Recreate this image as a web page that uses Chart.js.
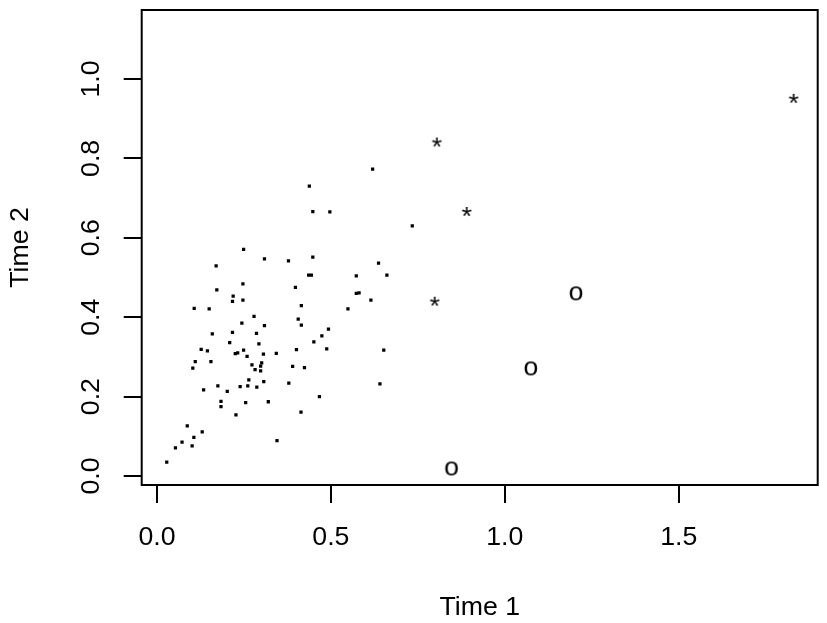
<!doctype html>
<html lang="en">
<head>
<meta charset="utf-8">
<title>Time 1 vs Time 2</title>
<script src="https://cdn.jsdelivr.net/npm/chart.js@4.4.1/dist/chart.umd.min.js"></script>
<style>
  html, body { margin: 0; padding: 0; background: #fff; }
  #wrap { width: 827px; height: 623px; }
</style>
</head>
<body>
<div id="wrap"><canvas id="myChart" width="827" height="623"></canvas></div>
<script>
// axis ticks
var xTicks = [0, 0.5, 1.0, 1.5];
var xTickLabels = ['0.0', '0.5', '1.0', '1.5'];
var yTicks = [0, 0.2, 0.4, 0.6, 0.8, 1.0];
var yTickLabels = ['0.0', '0.2', '0.4', '0.6', '0.8', '1.0'];

// small dots (pch ".")
var dotX = [0.438,0.448,0.497,0.620,0.734,0.249,0.309,0.378,0.448,0.637,
            0.170,0.436,0.444,0.573,0.661,0.247,0.398,0.172,0.573,0.581,
            0.219,0.217,0.247,0.615,0.415,0.107,0.150,0.549,0.279,0.406,
            0.415,0.244,0.309,0.493,0.474,0.159,0.217,0.286,0.451,0.209,
            0.293,0.488,0.652,0.127,0.145,0.249,0.401,0.225,0.232,0.306,
            0.343,0.259,0.110,0.155,0.301,0.273,0.298,0.390,0.424,0.103,
            0.282,0.298,0.264,0.307,0.379,0.641,0.175,0.239,0.261,0.287,
            0.134,0.202,0.467,0.184,0.320,0.255,0.184,0.414,0.227,0.087,
            0.130,0.106,0.072,0.101,0.345,0.053,0.028];
var dotY = [0.730,0.666,0.665,0.773,0.630,0.571,0.547,0.542,0.551,0.536,
            0.529,0.506,0.506,0.504,0.506,0.484,0.475,0.469,0.460,0.461,
            0.453,0.440,0.443,0.443,0.429,0.422,0.421,0.421,0.402,0.395,
            0.380,0.385,0.379,0.370,0.353,0.358,0.362,0.359,0.338,0.336,
            0.333,0.320,0.317,0.319,0.315,0.317,0.318,0.308,0.310,0.307,
            0.309,0.301,0.288,0.288,0.285,0.280,0.277,0.276,0.273,0.272,
            0.268,0.265,0.242,0.238,0.234,0.232,0.227,0.225,0.227,0.224,
            0.217,0.213,0.200,0.188,0.187,0.185,0.175,0.161,0.154,0.126,
            0.111,0.097,0.085,0.076,0.089,0.071,0.035];

// stars (pch "*")
var starX = [0.804, 0.890, 0.798, 1.830];
var starY = [0.840, 0.665, 0.439, 0.950];

// circles (pch "o")
var ringX = [1.205, 1.075, 0.847];
var ringY = [0.460, 0.271, 0.019];

var FONT = '"Liberation Sans", Arial, sans-serif';
var FSIZE = 26.7;

function toPoints(xs, ys) {
	var out = [];
	for (var i = 0; i < xs.length; i++) out.push({x: xs[i], y: ys[i]});
	return out;
}

// draw a text glyph into a small canvas so it can be used as pointStyle
function glyph(ch) {
	var c = document.createElement('canvas');
	c.width = 24; c.height = 24;
	var g = c.getContext('2d');
	g.font = FSIZE + 'px ' + FONT;
	g.fillStyle = '#000';
	var m = g.measureText(ch);
	var w = m.actualBoundingBoxRight + m.actualBoundingBoxLeft;
	var h = m.actualBoundingBoxAscent + m.actualBoundingBoxDescent;
	var ox = 12 - w / 2 + m.actualBoundingBoxLeft;
	var oy = 12 - h / 2 + m.actualBoundingBoxAscent;
	g.fillText(ch, ox, oy);
	return c;
}

var boxPlugin = {
	id: 'box',
	afterDraw: function(chart) {
		var a = chart.chartArea, ctx = chart.ctx;
		ctx.save();
		ctx.strokeStyle = '#000';
		ctx.lineWidth = 2;
		ctx.strokeRect(a.left, a.top, a.right - a.left, a.bottom - a.top);
		ctx.restore();
	}
};

var ctx = document.getElementById('myChart').getContext('2d');
var chart = new Chart(ctx, {
	type: 'scatter',
	data: {
		datasets: [{
			label: 'dots',
			data: toPoints(dotX, dotY),
			pointStyle: 'rect',
			pointRadius: 2.3,
			borderWidth: 0,
			backgroundColor: '#000'
		}, {
			label: 'stars',
			data: toPoints(starX, starY),
			pointStyle: glyph('*'),
			pointRadius: 6
		}, {
			label: 'rings',
			data: toPoints(ringX, ringY),
			pointStyle: glyph('o'),
			pointRadius: 8
		}]
	},
	plugins: [boxPlugin],
	options: {
		responsive: false,
		animation: false,
		events: [],
		layout: { padding: { left: 0, top: 10, right: 9.3, bottom: 0 } },
		plugins: {
			legend: { display: false },
			tooltip: { enabled: false }
		},
		scales: {
			x: {
				type: 'linear',
				min: -0.044,
				max: 1.8997,
				afterFit: function(s) {
					s.height = 138;
					s.paddingLeft = 0; s.paddingRight = 0;
				},
				afterBuildTicks: function(s) {
					s.ticks = xTicks.map(function(v) { return {value: v}; });
				},
				border: { display: false },
				grid: {
					drawOnChartArea: false,
					drawTicks: true,
					tickLength: 18,
					color: '#000',
					lineWidth: 2
				},
				ticks: {
					color: '#000',
					padding: 19,
					maxRotation: 0,
					font: { family: FONT, size: FSIZE, lineHeight: 1.2 },
					callback: function(v, i) { return xTickLabels[i]; }
				},
				title: {
					display: true,
					text: 'Time 1',
					color: '#000',
					font: { family: FONT, size: FSIZE, lineHeight: 1 },
					padding: { top: 0, bottom: 2.2 }
				}
			},
			y: {
				type: 'linear',
				min: -0.0227,
				max: 1.1738,
				afterFit: function(s) {
					s.width = 141.7;
					s.paddingTop = 0; s.paddingBottom = 0;
				},
				afterBuildTicks: function(s) {
					s.ticks = yTicks.map(function(v) { return {value: v}; });
				},
				border: { display: false },
				grid: {
					drawOnChartArea: false,
					drawTicks: true,
					tickLength: 18,
					color: '#000',
					lineWidth: 2
				},
				ticks: {
					color: '#000',
					padding: 14,
					minRotation: 90,
					maxRotation: 90,
					crossAlign: 'center',
					font: { family: FONT, size: FSIZE, lineHeight: 1.2 },
					callback: function(v, i) { return yTickLabels[i]; }
				},
				title: {
					display: true,
					text: 'Time 2',
					color: '#000',
					font: { family: FONT, size: FSIZE, lineHeight: 1 },
					padding: { top: 7.6, bottom: 0 }
				}
			}
		}
	}
});
</script>
</body>
</html>
